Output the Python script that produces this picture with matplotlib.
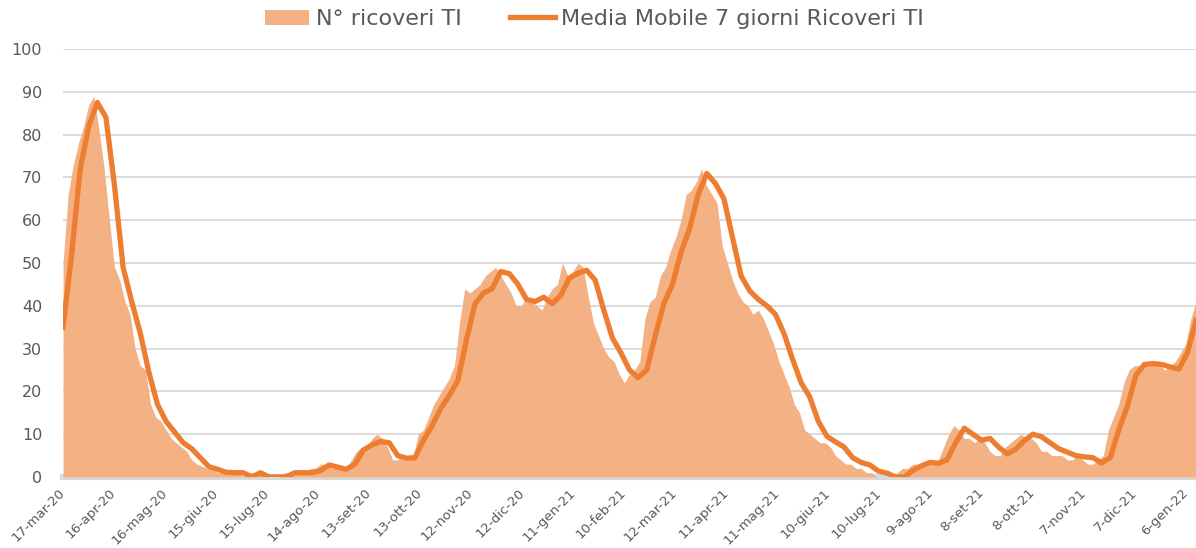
import numpy as np
import pandas as pd
import matplotlib
matplotlib.use("Agg")
import matplotlib.pyplot as plt

plt.rcParams["font.family"] = ["DejaVu Sans"]

# Data

START = "2020-03-17"
END = "2022-01-12"   # right edge of the plot area

# daily ICU admissions, read at evenly spaced points across the chart
ricoveri = [
    50, 66, 73, 78, 82, 87, 89, 81, 72, 60, 49, 46, 41, 38, 30, 26, 25, 17, 14, 13,
    11, 9, 8, 7, 6, 4, 3, 2.5, 2, 2, 1, 1, 1, 1, 1, 0, 1, 1, 1, 0,
    0, 0, 0, 1, 1, 1, 1, 1, 2, 2, 3, 3, 2, 2, 2, 2, 4, 6, 7, 7,
    9, 10, 9, 7, 4, 4, 5, 4, 5, 10, 11, 14, 17, 19, 21, 23, 26, 36, 44, 43,
    44, 45, 47, 48, 49, 47, 45, 43, 40, 40, 42, 41, 40, 39, 42, 44, 45, 50, 47, 48,
    50, 49, 42, 36, 33, 30, 28, 27, 24, 22, 24, 25, 27, 37, 41, 42, 47, 49, 53, 56,
    60, 66, 67, 69, 72, 68, 66, 64, 54, 50, 46, 43, 41, 40, 38, 39, 37, 34, 31, 27,
    24, 21, 17, 15, 11, 10, 9, 8, 8, 7, 5, 4, 3, 3, 2, 2, 1, 1, 0, 0,
    0, 0, 1, 2, 2, 3, 3, 3, 3, 3, 4, 7, 10, 12, 11, 9, 9, 8, 9, 8,
    6, 5, 5, 7, 8, 9, 10, 9, 9, 8, 6, 6, 5, 5, 5, 4, 4, 5, 4, 3,
    3, 4, 5, 11, 14, 17, 22, 25, 26, 26, 27, 26, 27, 26, 25, 26, 27, 29, 31, 37,
    41,
]

# 7-day moving average, read at evenly spaced points across the chart
media_mobile = [
    35, 52, 72, 82, 87.5, 84, 68, 49, 41, 33.6, 24.5, 17, 13, 10.5, 8, 6.6, 4.5, 2.4, 1.8, 1.1,
    1, 1, 0, 1, 0, 0, 0, 1, 1, 1, 1.5, 2.8, 2.3, 1.8, 3, 6.3, 7.5, 8.3, 8, 5,
    4.4, 4.5, 8.6, 12, 16, 19, 22.5, 32, 40.5, 43, 44, 48, 47.5, 45, 41.5, 41, 42, 40.5, 42.5, 46.5,
    47.6, 48.3, 46, 39, 32.5, 29, 25, 23.2, 25, 33, 40.5, 45, 52.5, 58, 66, 70.9, 68.6, 65, 56, 47,
    43.5, 41.5, 40, 38, 33.5, 27.5, 22, 18.7, 13, 9.5, 8.2, 7, 4.5, 3.4, 2.8, 1.4, 0.9, 0, 0, 1.5,
    2.6, 3.4, 3.2, 4, 8, 11.4, 10, 8.6, 9, 7, 5.4, 6.5, 8.5, 10, 9.4, 8, 6.6, 5.8, 5, 4.7,
    4.5, 3.3, 4.5, 11, 16.5, 23.8, 26.3, 26.5, 26.3, 25.7, 25.2, 29, 36.6,
]

tick_labels = [
    "17-mar-20", "16-apr-20", "16-mag-20", "15-giu-20", "15-lug-20", "14-ago-20",
    "13-set-20", "13-ott-20", "12-nov-20", "12-dic-20", "11-gen-21", "10-feb-21",
    "12-mar-21", "11-apr-21", "11-mag-21", "10-giu-21", "10-lug-21", "9-ago-21",
    "8-set-21", "8-ott-21", "7-nov-21", "7-dic-21", "6-gen-22",
]

dates_area = pd.date_range(START, END, periods=len(ricoveri))
dates_line = pd.date_range(START, END, periods=len(media_mobile))
tick_dates = pd.date_range(START, periods=len(tick_labels), freq="30D")

# Plot

AREA_COLOR = "#F4B183"
LINE_COLOR = "#ED7D31"
TEXT_COLOR = "#595959"
GRID_COLOR = "#D9D9D9"

fig = plt.figure(figsize=(11.96, 5.48), dpi=100)
ax = fig.add_axes([0.0527, 0.1296, 0.9473, 0.781])

ax.fill_between(dates_area, ricoveri, 0, color=AREA_COLOR, linewidth=0,
                zorder=3, label="N° ricoveri TI")
ax.plot(dates_line, media_mobile, color=LINE_COLOR, linewidth=3.8,
        solid_joinstyle="round", zorder=4, label="Media Mobile 7 giorni Ricoveri TI")

ax.set_ylim(0, 100)
ax.set_yticks(range(0, 101, 10))
ax.set_xlim(pd.Timestamp(START), pd.Timestamp(END))
ax.set_xticks(tick_dates)
ax.set_xticklabels(tick_labels, rotation=45, ha="right", va="center",
                   rotation_mode="anchor")

ax.grid(axis="y", color=GRID_COLOR, linewidth=1.3)
ax.set_axisbelow(True)

for side in ["top", "right", "left"]:
    ax.spines[side].set_visible(False)
ax.spines["bottom"].set_color(GRID_COLOR)
ax.spines["bottom"].set_linewidth(4.5)
ax.spines["bottom"].set_zorder(2)

ax.tick_params(axis="y", length=0, pad=15, labelsize=11.5, labelcolor=TEXT_COLOR)
ax.tick_params(axis="x", length=0, pad=10, labelsize=9.5, labelcolor=TEXT_COLOR)

leg = fig.legend(loc="center", bbox_to_anchor=(0.497, 0.965), ncol=2, frameon=False,
                 fontsize=16, handlelength=2.0, handletextpad=0.3, columnspacing=2.2)
for t in leg.get_texts():
    t.set_color(TEXT_COLOR)

fig.savefig("out.png", dpi=100)
